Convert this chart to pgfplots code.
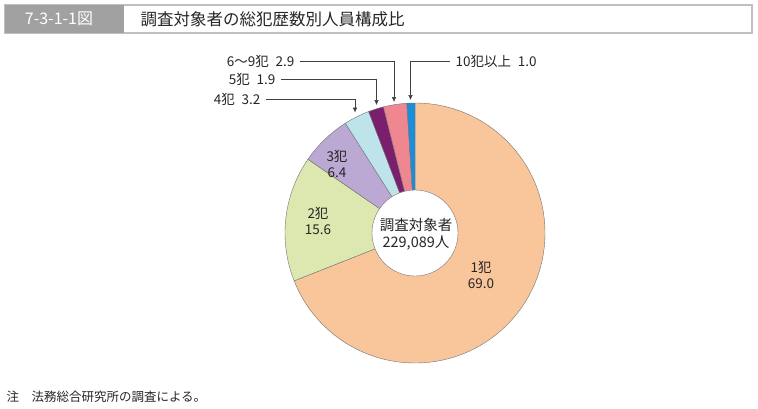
\documentclass[border=0pt]{standalone}
\usepackage{pgfplots}
\pgfplotsset{compat=1.18}
\usepackage{pgfplotstable}
\usetikzlibrary{arrows.meta}
\usepackage{fontspec}
\setmainfont{Noto Sans CJK JP}

\definecolor{cA}{HTML}{F9C59B}
\definecolor{cB}{HTML}{DCE8B0}
\definecolor{cC}{HTML}{BBA8D3}
\definecolor{cD}{HTML}{BEE3EB}
\definecolor{cE}{HTML}{7B1E6E}
\definecolor{cF}{HTML}{EF8791}
\definecolor{cG}{HTML}{1A8ED8}

% share of persons by number of prior convictions (%)
\pgfplotstableread{
group value color
1 69.0 cA
2 15.6 cB
3 6.4 cC
4 3.2 cD
5 1.9 cE
6 2.9 cF
10 1.0 cG
}\ratios

\begin{document}
\begin{tikzpicture}
\begin{axis}[
    width=758pt, height=408pt, scale only axis,
    xmin=0, xmax=758, ymin=0, ymax=408,
    y dir=reverse, hide axis, clip=false]

\path (axis cs:0,0) rectangle (axis cs:758,408);

% title bar
\draw[draw=black!25, line width=1.2pt] (axis cs:5,5) rectangle (axis cs:752,33);
\fill[black!37] (axis cs:5,5) rectangle (axis cs:124,33);
\node[text=white, font=\fontsize{16}{18}\selectfont] at (axis cs:59,19) {7-3-1-1図};
\node[anchor=west, font=\fontsize{16.5}{18}\selectfont, text=black!85] at (axis cs:137,19) {調査対象者の総犯歴数別人員構成比};

% donut
\pgfplotstablegetrowsof{\ratios}
\pgfmathtruncatemacro\lastrow{\pgfplotsretval-1}
\def\startangle{90}
\pgfplotsforeachungrouped \i in {0,...,\lastrow}{%
  \pgfplotstablegetelem{\i}{value}\of\ratios \let\val\pgfplotsretval
  \pgfplotstablegetelem{\i}{color}\of\ratios \let\col\pgfplotsretval
  \pgfmathsetmacro\endangle{\startangle-3.6*\val}%
  \edef\temp{\noexpand\filldraw[fill=\col, draw=black!55, line width=0.4pt]
    (axis cs:415,233) -- ++(\startangle:130pt)
    arc[start angle=\startangle, end angle=\endangle, radius=130pt] -- cycle;}%
  \temp
  \global\let\startangle\endangle
}
\filldraw[fill=white, draw=black!55, line width=0.4pt] (axis cs:415,233) circle[radius=43pt];

\node[align=center, font=\fontsize{14.5}{17}\selectfont, text=black!85] at (axis cs:416,234) {調査対象者\\229,089人};
\node[align=center, font=\fontsize{13.5}{16}\selectfont, text=black!85] at (axis cs:481,275) {1犯\\69.0};
\node[align=center, font=\fontsize{13.5}{16}\selectfont, text=black!85] at (axis cs:318,221) {2犯\\15.6};
\node[align=center, font=\fontsize{13.5}{16}\selectfont, text=black!85] at (axis cs:337,164) {3犯\\6.4};

% callouts
\tikzset{callout/.style={draw=black!75, line width=0.5pt, -{Latex[length=5pt,width=4.5pt]}}}
\draw[callout] (axis cs:300,61) -| (axis cs:394,102);
\draw[callout] (axis cs:281,79) -| (axis cs:376.5,105);
\draw[callout] (axis cs:266,99) -| (axis cs:355,112.5);
\draw[callout] (axis cs:450,61) -| (axis cs:410.5,100);
\node[anchor=east, font=\fontsize{13.5}{15}\selectfont, text=black!85] at (axis cs:298,61) {6〜9犯\enspace 2.9};
\node[anchor=east, font=\fontsize{13.5}{15}\selectfont, text=black!85] at (axis cs:279,79) {5犯\enspace 1.9};
\node[anchor=east, font=\fontsize{13.5}{15}\selectfont, text=black!85] at (axis cs:264,99) {4犯\enspace 3.2};
\node[anchor=west, font=\fontsize{13.5}{15}\selectfont, text=black!85] at (axis cs:452,61) {10犯以上\enspace 1.0};

% note
\node[anchor=west, font=\fontsize{12.5}{14}\selectfont, text=black!85] at (axis cs:3,397) {注\quad 法務総合研究所の調査による。};
\end{axis}
\end{tikzpicture}
\end{document}
